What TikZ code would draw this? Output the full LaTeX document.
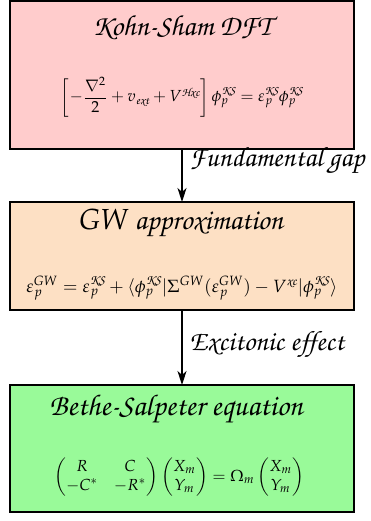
\documentclass[tikz,border=0pt]{standalone}
\usepackage[T1,TU]{fontenc}
\usepackage{amsmath}
\usepackage{mathpazo}
\usetikzlibrary{arrows.meta}
\newcommand\chan{\fontencoding{T1}\fontfamily{pzc}\fontseries{mb}\fontshape{it}\selectfont}
\newcommand\ch[1]{\text{\chan #1}}
\definecolor{pinkfill}{RGB}{255,204,204}
\definecolor{peachfill}{RGB}{253,224,196}
\definecolor{greenfill}{RGB}{153,250,153}
\begin{document}
\begin{tikzpicture}[x=1pt,y=-1pt,
  boxst/.style={draw=black,line width=2pt},
  title/.style={font=\chan\fontsize{29}{32}\selectfont},
  eqn/.style={inner sep=0pt},
  arr/.style={-{Stealth[length=14pt,width=9pt,inset=4pt]},line width=1.3pt},
  lbl/.style={anchor=west,font=\chan\fontsize{28}{30}\selectfont}]
\useasboundingbox (0,0) rectangle (370,521);
\filldraw[boxst,fill=pinkfill] (10,1) rectangle (354,149);
\filldraw[boxst,fill=peachfill] (10,202) rectangle (354,310);
\filldraw[boxst,fill=greenfill] (10,385) rectangle (354,512);
\coordinate (b1) at (182,149);
\coordinate (t2) at (182,202);
\coordinate (b2) at (182,310);
\coordinate (t3) at (182,385);
\node[title] (k) at (182,27) {Kohn-Sham DFT};
\node[eqn,scale=1.6] (ke) at (182,97) {$\left[-\dfrac{\nabla^2}{2}+v_{\ch{ext}}+V^{\ch{Hxc}}\right]\phi_p^{\ch{KS}}=\varepsilon_p^{\ch{KS}}\phi_p^{\ch{KS}}$};
\node[title] (g) at (181,224) {\fontfamily{ppl}\fontseries{m}\fontshape{it}\selectfont GW \chan approximation};
\node[eqn,scale=1.77] (ge) at (182,288) {$\varepsilon_p^{GW}=\varepsilon_p^{\ch{KS}}+\langle\phi_p^{\ch{KS}}|\Sigma^{GW}(\varepsilon_p^{GW})-V^{\ch{xc}}|\phi_p^{\ch{KS}}\rangle$};
\node[title,font=\chan\fontsize{30}{32}\selectfont] (b) at (176,409) {Bethe-Salpeter equation};
\node[eqn,scale=1.6] (be) at (179,477) {$\begin{pmatrix}R & C\\ -C^* & -R^*\end{pmatrix}\begin{pmatrix}X_m\\ Y_m\end{pmatrix}=\Omega_m\begin{pmatrix}X_m\\ Y_m\end{pmatrix}$};
\draw[arr] (b1) -- (t2);
\draw[arr] (b2) -- (t3);
\node[lbl] (l1) at (186,161) {Fundamental gap};
\node[lbl] (l2) at (186,345) {Excitonic effect};
\end{tikzpicture}
\end{document}
